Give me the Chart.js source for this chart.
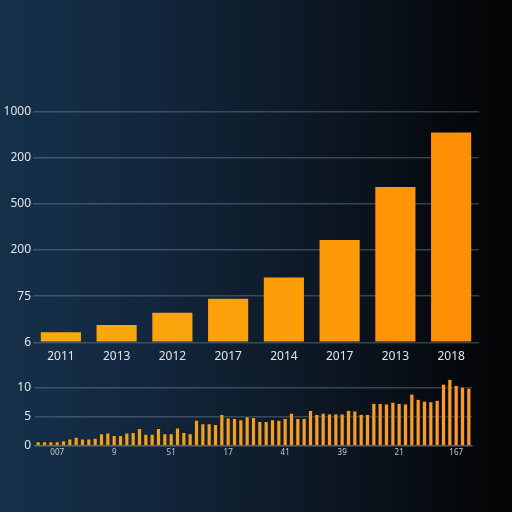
<!DOCTYPE html>
<html>
<head>
<meta charset="utf-8">
<script src="https://cdn.jsdelivr.net/npm/chart.js@4/dist/chart.umd.min.js"></script>
<style>
  html, body { margin: 0; padding: 0; width: 512px; height: 512px; overflow: hidden; }
  body {
    background: linear-gradient(90deg, #16304a 0%, #132840 25%, #0f1d2d 50%, #0a131c 72%, #05080c 90%, #020304 100%);
    position: relative;
  }
  .wrap { position: absolute; left: 0; width: 512px; }
  #w1 { top: 90px; height: 280px; }
  #w2 { top: 365px; height: 100px; }
</style>
</head>
<body>
<div class="wrap" id="w1"><canvas id="c1" width="512" height="280"></canvas></div>
<div class="wrap" id="w2"><canvas id="c2" width="512" height="100"></canvas></div>
<script>
// ---- Top chart data ----
const topCategories = ['2011', '2013', '2012', '2017', '2014', '2017', '2013', '2018'];
const topValues = [43, 75, 128, 189, 281, 443, 672, 908];
const topTickLabels = ['6', '75', '200', '500', '200', '1000'];

// ---- Bottom chart data ----
const bottomValues = [
  0.8, 0.8, 0.8, 0.8, 1.0, 1.3, 1.6, 1.3, 1.3, 1.4,
  2.2, 2.3, 1.9, 1.9, 2.3, 2.4, 3.1, 2.1, 2.1, 3.1,
  2.2, 2.2, 3.2, 2.4, 2.2, 4.5, 3.9, 3.9, 3.8, 5.5,
  4.9, 4.8, 4.6, 5.1, 5.0, 4.3, 4.3, 4.6, 4.5, 4.8,
  5.7, 4.8, 4.8, 6.2, 5.5, 5.7, 5.6, 5.6, 5.6, 6.2,
  6.1, 5.5, 5.5, 7.4, 7.4, 7.3, 7.6, 7.4, 7.3, 9.0,
  8.1, 7.8, 7.7, 7.9, 10.7, 11.5, 10.5, 10.2, 10.0
];
const bottomTickLabels = ['007', '9', '51', '17', '41', '39', '21', '167'];
const bottomTickIndices = [3, 12, 21, 30, 39, 48, 57, 66];
const bottomYTicks = [0, 5, 10];

const FONT = "'Noto Sans', 'DejaVu Sans', sans-serif";
const gridColor = 'rgba(130,150,170,0.38)';

const topColors = ['#f8aa0a', '#f9a70a', '#fba40a', '#fca109', '#fd9e08', '#fe9a07', '#ff9506', '#ff9005'];

new Chart(document.getElementById('c1'), {
  type: 'bar',
  data: {
    labels: topCategories,
    datasets: [{
      data: topValues,
      backgroundColor: topColors,
      borderWidth: 0,
      barPercentage: 0.8,
      categoryPercentage: 0.9
    }]
  },
  options: {
    responsive: false,
    animation: false,
    events: [],
    layout: { padding: { left: 0, right: 33, top: 21.3, bottom: 3.7 } },
    plugins: { legend: { display: false }, tooltip: { enabled: false } },
    scales: {
      x: {
        grid: { display: false, drawTicks: false },
        border: { display: false },
        ticks: { color: '#e2e6ea', font: { family: FONT, size: 12 }, padding: 7, maxRotation: 0 },
        afterFit: (s) => { s.height = 24; }
      },
      y: {
        min: 0, max: 1000,
        grid: { color: gridColor, lineWidth: 1.5, drawTicks: false },
        border: { display: false },
        ticks: {
          stepSize: 200,
          color: '#e2e6ea',
          font: { family: FONT, size: 12 },
          padding: 2,
          callback: (v, i) => topTickLabels[i]
        },
        afterFit: (s) => { s.width = 33; }
      }
    }
  }
});

new Chart(document.getElementById('c2'), {
  type: 'bar',
  data: {
    labels: bottomValues.map((_, i) => String(i)),
    datasets: [{
      data: bottomValues,
      backgroundColor: (ctx) => {
        const t = ctx.dataIndex / (bottomValues.length - 1);
        const r = Math.round(226 + 22 * t), g = Math.round(168 - 14 * t), b = Math.round(36 + 12 * t);
        return `rgb(${r},${g},${b})`;
      },
      borderColor: 'rgba(50,28,4,0.7)',
      borderWidth: 1,
      barPercentage: 1.0,
      categoryPercentage: 0.82
    }]
  },
  options: {
    responsive: false,
    animation: false,
    events: [],
    layout: { padding: { left: 0, right: 40, top: 6.6, bottom: 7 } },
    plugins: { legend: { display: false }, tooltip: { enabled: false } },
    scales: {
      x: {
        grid: { display: false, drawTicks: false },
        border: { display: true, color: gridColor, width: 1.5 },
        ticks: {
          autoSkip: false, maxRotation: 0,
          color: '#c4ccd4', font: { family: FONT, size: 8 }, padding: 2,
          callback: (v, i) => {
            const k = bottomTickIndices.indexOf(i);
            return k >= 0 ? bottomTickLabels[k] : '';
          }
        },
        afterFit: (s) => { s.height = 12; }
      },
      y: {
        min: 0, max: 12,
        grid: { color: gridColor, lineWidth: 1.5, drawTicks: false },
        border: { display: false },
        afterBuildTicks: (s) => { s.ticks = bottomYTicks.map(v => ({ value: v })); },
        ticks: {
          color: '#e2e6ea',
          font: { family: FONT, size: 12 },
          padding: 4,
          callback: (v) => String(v)
        },
        afterFit: (s) => { s.width = 35; }
      }
    }
  }
});
</script>
</body>
</html>
